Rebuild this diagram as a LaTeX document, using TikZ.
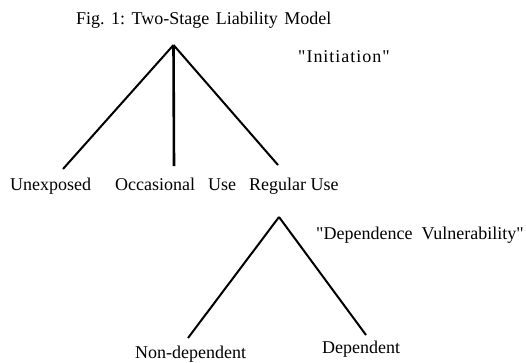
\documentclass[tikz,border=0pt]{standalone}
\usepackage{fontspec}
\setmainfont{Liberation Serif}
\newfontfamily\spacedserif[LetterSpace=5.5]{Liberation Serif}
\newfontfamily\plainserif{Liberation Serif}
\newcommand{\sq}{\char34\relax}
\newcommand{\wgap}{\hspace{0.36em}}
\begin{document}
\begin{tikzpicture}[x=1pt,y=-1pt,
  lbl/.style={inner sep=0pt,anchor=base west,font=\fontsize{18}{20}\selectfont},
  branch/.style={line width=2pt,line cap=butt,black}]
\useasboundingbox (0,0) rectangle (526,362);
% texts
\node[lbl] (title) at (76,24) {Fig.\wgap 1:\wgap Two-Stage\wgap Liability\wgap Model};
\node[lbl,font=\fontsize{18}{20}\spacedserif] (init) at (298,62) {\sq Initiation\sq};
\node[lbl] (unexp) at (10,190) {Unexposed};
\node[lbl] (occ) at (115,190) {Occasional};
\node[lbl] (occuse) at (208,190) {Use};
\node[lbl] (reg) at (249,190) {Regular Use};
\node[lbl,font=\fontsize{18}{20}\plainserif] (vuln) at (316,239) {\sq Dependence\ \ Vulnerability\sq};
\node[lbl] (nondep) at (135,358) {Non-dependent};
\node[lbl] (dep) at (322,353) {Dependent};
% first stage
\coordinate (apex1) at (173.5,45);
\coordinate (e1) at (63,169);
\coordinate (e2) at (174,166);
\coordinate (e3) at (278,165);
\draw[branch] (apex1) -- (e1);
\draw[branch,line width=2.6pt] (apex1) -- (e2);
\draw[branch] (apex1) -- (e3);
% second stage
\coordinate (apex2) at (279,217);
\coordinate (f1) at (188,338);
\coordinate (f2) at (366,335);
\draw[branch] (apex2) -- (f1);
\draw[branch] (apex2) -- (f2);
\end{tikzpicture}
\end{document}
